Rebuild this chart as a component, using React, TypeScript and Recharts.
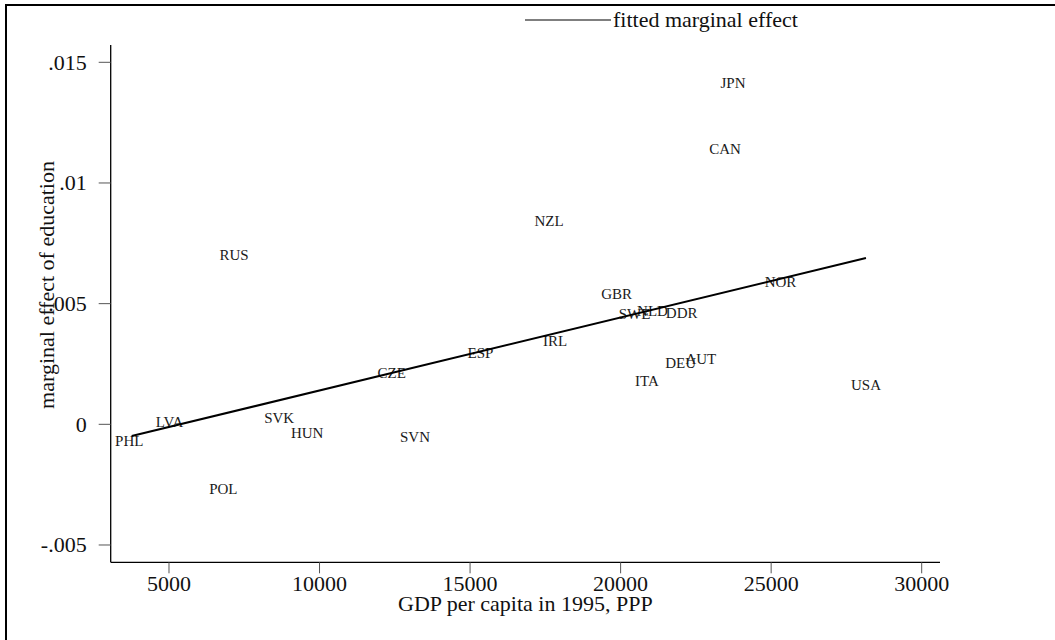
import React from 'react';
import { ScatterChart, Scatter, XAxis, YAxis } from 'recharts';

const countries = ['PHL', 'LVA', 'POL', 'RUS', 'SVK', 'HUN', 'CZE', 'SVN', 'ESP', 'NZL', 'IRL', 'GBR', 'SWE', 'ITA', 'NLD', 'DEU', 'DDR', 'AUT', 'CAN', 'JPN', 'NOR', 'USA'];
const gdpPerCapita = [3680, 5017, 6804, 7159, 8660, 9590, 12400, 13171, 15346, 17621, 17821, 19870, 20461, 20876, 21059, 21995, 22029, 22663, 23467, 23733, 25310, 28149];
const marginalEffect = [-0.00068, 0.000108, -0.002693, 0.007015, 0.000273, -0.000373, 0.002113, -0.000514, 0.002967, 0.008424, 0.003452, 0.0054, 0.004558, 0.001794, 0.004707, 0.002528, 0.0046, 0.002693, 0.01141, 0.01414, 0.005909, 0.001628];

const fitGdp = [3761, 28149];
const fitEffect = [-0.000485, 0.006891];

const xTicks = [5000, 10000, 15000, 20000, 25000, 30000];
const yTicks = [-0.005, 0, 0.005, 0.01, 0.015];
const yTickLabels = ['-.005', '0', '.005', '.01', '.015'];

const points = countries.map((name, i) => ({ name, x: gdpPerCapita[i], y: marginalEffect[i] }));
const fitLine = fitGdp.map((x, i) => ({ x, y: fitEffect[i] }));

const FONT = '"Liberation Serif", "Times New Roman", serif';

const CountryLabel = (props: any) => {
  const { cx, cy, payload } = props;
  return (
    <text x={cx} y={cy} dy={5} textAnchor="middle" fontFamily={FONT} fontSize={15} fill="#1a1a1a">
      {payload.name}
    </text>
  );
};

const NoShape = () => <g />;

const XTick = (props: any) => {
  const { x, y, payload } = props;
  return (
    <text x={x} y={y} dy={16} textAnchor="middle" fontFamily={FONT} fontSize={22} fill="#111">
      {String(payload.value)}
    </text>
  );
};

const YTick = (props: any) => {
  const { x, y, payload } = props;
  const idx = yTicks.findIndex((t) => Math.abs(t - payload.value) < 1e-9);
  const label = idx >= 0 ? yTickLabels[idx] : String(payload.value);
  return (
    <text x={x} y={y} dx={-10} dy={7.3} textAnchor="end" fontFamily={FONT} fontSize={22} fill="#111">
      {label}
    </text>
  );
};

export default function App() {
  return (
    <div style={{ position: 'absolute', left: 0, top: 0, width: 1055, height: 640, background: '#fff' }}>
      <div
        style={{
          position: 'absolute',
          left: 5,
          top: 4,
          width: 1050,
          height: 636,
          borderTop: '2px solid #000',
          borderLeft: '2px solid #000',
          boxSizing: 'border-box',
        }}
      />
      <div
        style={{
          position: 'absolute',
          left: 525,
          top: 8,
          display: 'flex',
          alignItems: 'center',
          fontFamily: FONT,
          fontSize: 22,
          color: '#111',
          whiteSpace: 'nowrap',
          lineHeight: '24px',
          zIndex: 2,
        }}
      >
        <svg width={86} height={4} style={{ display: 'block' }}>
          <line x1={0} x2={86} y1={2} y2={2} stroke="#000" strokeWidth={1.2} />
        </svg>
        <span style={{ marginLeft: 2 }}>fitted marginal effect</span>
      </div>
      <ScatterChart width={1055} height={640} margin={{ top: 45, right: 115, bottom: 37.7, left: 30.7 }}>
        <XAxis
          type="number"
          dataKey="x"
          domain={[3064, 30608]}
          ticks={xTicks}
          interval={0}
          allowDataOverflow
          height={40}
          tickSize={11}
          tickMargin={2}
          axisLine={{ stroke: '#000', strokeWidth: 1.3 }}
          tickLine={{ stroke: '#555', strokeWidth: 1 }}
          tick={<XTick />}
          label={(p: any) => {
            const vb = p.viewBox;
            return (
              <text x={vb.x + vb.width / 2} y={vb.y + 48.7} textAnchor="middle" fontFamily={FONT} fontSize={22} fill="#111">
                GDP per capita in 1995, PPP
              </text>
            );
          }}
        />
        <YAxis
          type="number"
          dataKey="y"
          domain={[-0.005717, 0.015717]}
          ticks={yTicks}
          interval={0}
          allowDataOverflow
          width={80}
          tickSize={12}
          tickMargin={2}
          axisLine={{ stroke: '#000', strokeWidth: 1.3 }}
          tickLine={{ stroke: '#555', strokeWidth: 1 }}
          tick={<YTick />}
          label={(p: any) => {
            const vb = p.viewBox;
            const cx = vb.x + 23.3;
            const cy = vb.y + 240;
            return (
              <text x={cx} y={cy} transform={`rotate(-90 ${cx} ${cy})`} textAnchor="middle" fontFamily={FONT} fontSize={22} fill="#111">
                marginal effect of education
              </text>
            );
          }}
        />
        <Scatter name="countries" data={points} shape={<CountryLabel />} isAnimationActive={false} legendType="none" />
        <Scatter
          name="fitted marginal effect"
          data={fitLine}
          shape={<NoShape />}
          line={{ stroke: '#000', strokeWidth: 2 }}
          lineJointType="linear"
          isAnimationActive={false}
        />
      </ScatterChart>
    </div>
  );
}
